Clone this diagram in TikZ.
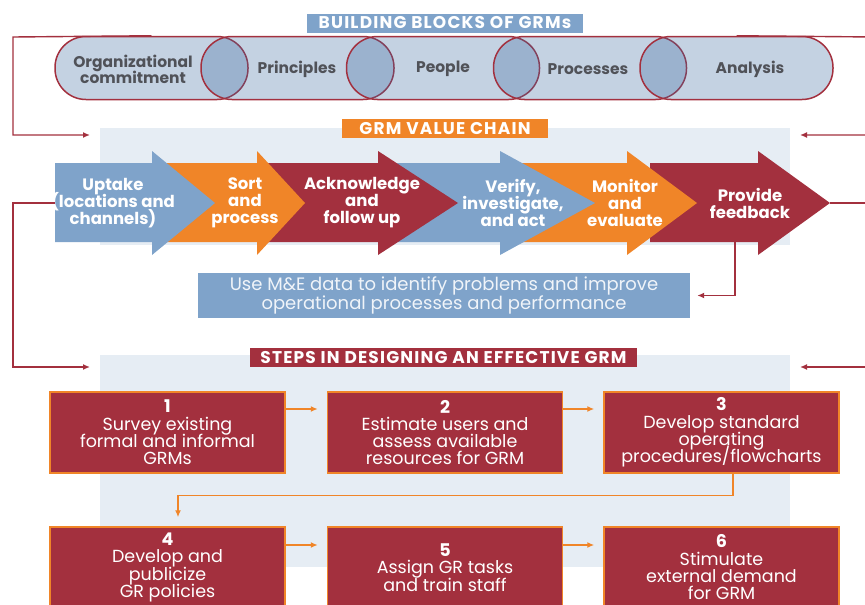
\documentclass[tikz,border=0pt]{standalone}
\usepackage{fontspec}
\setmainfont{Poppins}
\usepackage{tikz}
\usetikzlibrary{arrows.meta}
\definecolor{grmred}{RGB}{163,48,62}
\definecolor{grmorange}{RGB}{240,133,40}
\definecolor{grmblue}{RGB}{127,163,202}
\definecolor{blockblue}{RGB}{60,105,160}
\definecolor{panelgray}{RGB}{230,237,244}
\definecolor{blocktext}{RGB}{80,82,88}
\newcommand{\tightlines}{\lineskiplimit-8pt\relax}
\tikzstyle{block}=[draw=grmred, line width=1.5pt, fill=blockblue, fill opacity=0.3, rounded corners=31pt, minimum width=193pt, minimum height=63pt]
\tikzstyle{blocklabel}=[text=blocktext, font=\bfseries\fontsize{15.5}{16}\selectfont\tightlines, align=center]
\tikzstyle{banner}=[text=white, font=\bfseries\fontsize{17}{18}\selectfont\addfontfeature{LetterSpace=7}, inner sep=0pt, minimum height=19pt]
\tikzstyle{chain}=[text=white, font=\bfseries\fontsize{16.5}{17}\selectfont\tightlines, align=center]
\tikzstyle{stepbox}=[draw=grmorange, fill=grmred, line width=1.5pt, text=white, minimum width=235pt, minimum height=81pt, align=center, font=\fontsize{17.5}{17.3}\selectfont\tightlines]
\tikzstyle{redlink}=[draw=grmred, line width=1.4pt, >={Latex[length=7pt,width=6pt]}]
\tikzstyle{orangelink}=[draw=grmorange, line width=1.4pt, >={Latex[length=7pt,width=6pt]}]
\begin{document}
\begin{tikzpicture}[x=1pt, y=-1pt]
	\useasboundingbox (0,0) rectangle (865,605);
	\clip (0,0) rectangle (865,605);
	% light panels behind the chain and the steps
	\fill[panelgray] (100,128) rectangle (790,245);
	\fill[panelgray] (100,355) rectangle (790,567);
	\begin{scope}
		\node (bbtitle) at (445,23) [banner, fill=grmblue, minimum width=276pt] {BUILDING BLOCKS OF GRMs};
		\node (org) at (151.5,68) [block] {};
		\node (pri) at (297.5,68) [block] {};
		\node (peo) at (443,68) [block] {};
		\node (proc) at (590,68) [block] {};
		\node (ana) at (736.5,68) [block] {};
		\node (orgtext) at (133,69) [blocklabel] {Organizational\\commitment};
		\node (pritext) at (297,69) [blocklabel] {Principles};
		\node (peotext) at (443,69) [blocklabel] {People};
		\node (proctext) at (588,69) [blocklabel] {Processes};
		\node (anatext) at (750,69) [blocklabel] {Analysis};
	\end{scope}
	\begin{scope}
		\node (vctitle) at (445,128.5) [banner, fill=grmorange, minimum width=206pt] {GRM VALUE CHAIN};
		% chevrons, right one first so each tip lies over the next body
		\fill[grmred] (650,163) -- (758,163) -- (758,151) -- (830,203) -- (758,255) -- (758,242) -- (650,242) -- cycle;
		\fill[grmorange] (520,163) -- (627,163) -- (627,151) -- (697,203) -- (627,255) -- (627,242) -- (520,242) -- cycle;
		\fill[grmblue] (390,163) -- (500,163) -- (500,151) -- (595,203) -- (500,255) -- (500,242) -- (390,242) -- cycle;
		\fill[grmred] (262,163) -- (378,163) -- (378,151) -- (458,203) -- (378,255) -- (378,242) -- (262,242) -- cycle;
		\fill[grmorange] (165,163) -- (257,163) -- (257,151) -- (305,203) -- (257,255) -- (257,242) -- (165,242) -- cycle;
		\fill[grmblue] (55,163) -- (152,163) -- (152,151) -- (215,203) -- (152,255) -- (152,242) -- (55,242) -- cycle;
		\coordinate (uptakeback) at (55,203);
		\coordinate (feedtip) at (830,203);
		\coordinate (feedfoot) at (735,242);
		\node (uptake) at (113,203) [chain] {Uptake\\(locations and\\channels)};
		\node (sort) at (245,203) [chain] {Sort\\and\\process};
		\node (ack) at (362,203) [chain] {Acknowledge\\and\\follow up};
		\node (verify) at (513,203) [chain] {Verify,\\investigate,\\and act};
		\node (monitor) at (625,203) [chain] {Monitor\\and\\evaluate};
		\node (feedback) at (750,203) [chain] {Provide\\feedback};
		\node (mne) at (444,295.5) [fill=grmblue, minimum width=492pt, minimum height=45pt, inner sep=1pt, text=white!88!grmblue, align=center, font=\fontsize{18}{18}\selectfont] {Use M\&E data to identify problems and improve\\operational processes and performance};
	\end{scope}
	\begin{scope}
		\node (sttitle) at (443.5,357.5) [banner, fill=grmred, minimum width=387pt] {STEPS IN DESIGNING AN EFFECTIVE GRM};
		\node (s1) at (167.5,432.5) [stepbox] {\textbf{1}\\Survey existing\\formal and informal\\GRMs};
		\node (s2) at (445,432.5) [stepbox] {\textbf{2}\\Estimate users and\\assess available\\resources for GRM};
		\node (s3) at (721.5,432.5) [stepbox] {\textbf{3}\\Develop standard\\operating\\procedures/flowcharts};
		\node (s4) at (167.5,567.5) [stepbox] {\textbf{4}\\Develop and\\publicize\\GR policies};
		\node (s5) at (445,567.5) [stepbox] {\textbf{5}\\Assign GR tasks\\and train staff};
		\node (s6) at (721.5,567.5) [stepbox] {\textbf{6}\\Stimulate\\external demand\\for GRM};
	\end{scope}
	% loops back into the panels
	\coordinate (chainin) at (90,135);
	\coordinate (chaininr) at (800,135);
	\coordinate (stepsin) at (90,367);
	\coordinate (stepsinr) at (800,367);
	\draw[redlink, ->] (org.north) -- (13,37) |- (chainin);
	\draw[redlink, ->] (ana.north) -- (875,37) |- (chaininr);
	\draw[redlink, ->] (uptakeback) -- (13,203) |- (stepsin);
	\draw[redlink, ->] (feedtip) -- (875,203) |- (stepsinr);
	\draw[redlink, ->] (feedfoot) |- ([xshift=7pt]mne.east);
	% order of the steps
	\draw[orangelink, ->] ([yshift=23.5pt]s1.east) -- ([xshift=-9pt, yshift=23.5pt]s2.west);
	\draw[orangelink, ->] ([yshift=23.5pt]s2.east) -- ([xshift=-9pt, yshift=23.5pt]s3.west);
	\draw[orangelink, ->] ([xshift=11.5pt]s3.south) -- ++(0,22) -| ([xshift=10.5pt, yshift=9pt]s4.north);
	\draw[orangelink, ->] ([yshift=22.5pt]s4.east) -- ([xshift=-9pt, yshift=22.5pt]s5.west);
	\draw[orangelink, ->] ([yshift=22.5pt]s5.east) -- ([xshift=-9pt, yshift=22.5pt]s6.west);
\end{tikzpicture}
\end{document}
